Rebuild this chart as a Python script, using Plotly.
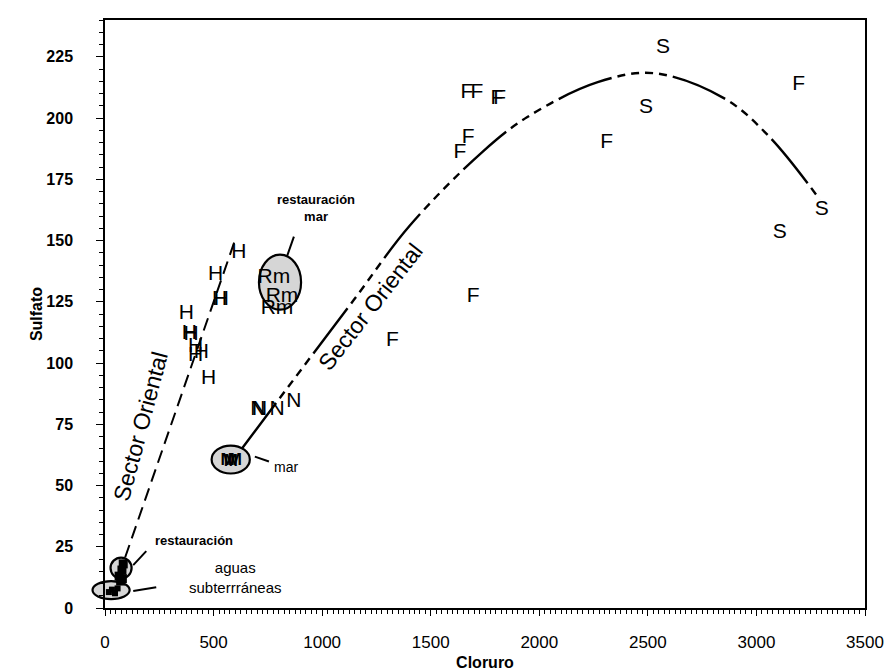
import plotly.graph_objects as go

FONT = "Liberation Sans, Arial, sans-serif"

# ---- data (Cloruro, Sulfato) ----
h_x = [616, 509, 528, 536, 375, 388, 396, 417, 444, 417, 477]
h_y = [145, 136, 126, 126, 120, 112, 111.5, 106.5, 104, 103, 93.5]

rm_x = [778, 815, 792]
rm_y = [135, 127, 122]

n_x = [704, 712, 792, 870]
n_y = [81, 81, 81, 84]

m_x = [565, 580, 598]
m_y = [60, 59.5, 60]

f_x = [1667, 1713, 1805, 1818, 1672, 1634, 2310, 3195, 1695, 1324]
f_y = [210.5, 210.5, 207.7, 208, 192, 186, 190, 213.4, 127, 109]

s_x = [2570, 2491, 3301, 3107]
s_y = [228.5, 204, 162.6, 153]

rest_x = [65, 78, 84, 72, 80]
rest_y = [13, 15.5, 18, 11, 12]

subt_x = [18, 32, 46, 58]
subt_y = [6.5, 7.5, 6, 8]

# trend lines ("Sector Oriental")
c1_x = [93, 602]
c1_y = [20.7, 151]
c2_x = [630, 940, 1148, 1403, 1736, 1945, 2269, 2528, 2852, 3060, 3292]
c2_y = [65, 101.6, 126, 156, 186, 200.4, 214.6, 218.3, 208, 192.3, 166.7]

x_ticks = [0, 500, 1000, 1500, 2000, 2500, 3000, 3500]
y_ticks = [0, 25, 50, 75, 100, 125, 150, 175, 200, 225]
X_MAX = 3500
Y_MAX = 240

fig = go.Figure()

# ellipses (groups): (x0, x1, y0, y1)
ellipses = [
    (709, 903, 121.8, 144.2),   # restauración mar
    (491, 667, 54.9, 66.3),     # mar
    (25.5, 122.5, 12.0, 20.6),  # restauración
]
for x0, x1, y0, y1 in ellipses:
    fig.add_shape(type="circle", xref="x", yref="y", x0=x0, x1=x1, y0=y0, y1=y1,
                  fillcolor="#d6d6d6", line=dict(color="black", width=2.2), layer="below")
# aguas subterráneas ellipse reaches left of the y axis -> place it in paper units (unclipped)
aguas = (-57.5, 113.5, 3.6, 11.0)
fig.add_shape(type="circle", xref="paper", yref="paper",
              x0=aguas[0] / X_MAX, x1=aguas[1] / X_MAX, y0=aguas[2] / Y_MAX, y1=aguas[3] / Y_MAX,
              fillcolor="#d6d6d6", line=dict(color="black", width=2.2), layer="below")

# leader lines
leaders = [
    ((838, 870), (143.5, 151.6)),
    ((690, 755), (61.8, 59.8)),
    ((130, 190), (17.5, 23.2)),
    ((130, 236), (6.9, 8.5)),
]
for (lx, ly) in leaders:
    fig.add_trace(go.Scatter(x=list(lx), y=list(ly), mode="lines",
                             line=dict(color="black", width=2), hoverinfo="skip", showlegend=False))

# trend lines
fig.add_trace(go.Scatter(x=c1_x, y=c1_y, mode="lines",
                         line=dict(color="black", width=2, dash="13px,7px"),
                         showlegend=False, hoverinfo="skip"))
fig.add_trace(go.Scatter(x=c2_x, y=c2_y, mode="lines",
                         line=dict(color="black", width=2.4, shape="spline", smoothing=1.0,
                                   dash="57px,6px,8px,6px,8px,6px,8px,6px,8px,6px"),
                         showlegend=False, hoverinfo="skip"))

# square markers
fig.add_trace(go.Scatter(x=rest_x, y=rest_y, mode="markers",
                         marker=dict(symbol="square", size=9, color="black"), showlegend=False))
fig.add_trace(go.Scatter(x=subt_x, y=subt_y, mode="markers",
                         marker=dict(symbol="square", size=6, color="black"), showlegend=False,
                         cliponaxis=False))

def letters(xs, ys, label, size=21, weight="normal"):
    fig.add_trace(go.Scatter(x=xs, y=ys, mode="text", text=[label] * len(xs),
                             textposition="middle center",
                             textfont=dict(family=FONT, size=size, color="black", weight=weight),
                             showlegend=False, cliponaxis=False))

letters(h_x, h_y, "H")
letters(rm_x, rm_y, "Rm")
letters(n_x, n_y, "N")
letters(m_x, m_y, "M", size=17, weight="bold")
letters(f_x, f_y, "F")
letters(s_x, s_y, "S")

annotations = [
    dict(x=972, y=163.3, text="<b>restauración<br>mar</b>", size=13),
    dict(x=412, y=27.6, text="<b>restauración</b>", size=13),
    dict(x=602, y=12.6, text="aguas<br>subterrráneas", size=15),
    dict(x=833, y=57.7, text="mar", size=14),
]
for a in annotations:
    fig.add_annotation(x=a["x"], y=a["y"], xref="x", yref="y", text=a["text"], showarrow=False,
                       font=dict(family=FONT, size=a["size"], color="black"),
                       xanchor="center", yanchor="middle", align="center")

fig.add_annotation(x=162, y=74, xref="x", yref="y", text="Sector Oriental", showarrow=False,
                   textangle=-75, font=dict(family=FONT, size=23, color="black"))
fig.add_annotation(x=1222, y=122.8, xref="x", yref="y", text="Sector Oriental", showarrow=False,
                   textangle=-52, font=dict(family=FONT, size=23, color="black"))

fig.update_layout(
    width=892, height=672,
    margin=dict(l=97, r=35, t=12, b=72),
    paper_bgcolor="white", plot_bgcolor="white",
    showlegend=False,
    font=dict(family=FONT, color="black"),
    xaxis=dict(range=[0, X_MAX], tickvals=x_ticks, ticktext=[str(v) for v in x_ticks],
               automargin=False,
               ticks="outside", ticklen=6, tickwidth=1, tickcolor="black",
               minor=dict(dtick=25, ticks="outside", ticklen=4, tickcolor="black"),
               showline=True, linecolor="black", linewidth=1.5, mirror=True,
               showgrid=False, zeroline=False,
               tickfont=dict(family=FONT, size=17, color="black"), ticklabelstandoff=12,
               title=dict(text="<b>Cloruro</b>", font=dict(family=FONT, size=16), standoff=6)),
    yaxis=dict(range=[0, Y_MAX], tickvals=y_ticks, ticktext=["<b>%d</b>" % v for v in y_ticks],
               automargin=False,
               ticks="outside", ticklen=7, tickwidth=1, tickcolor="black",
               minor=dict(dtick=5, ticks="outside", ticklen=4, tickcolor="black"),
               showline=True, linecolor="black", linewidth=1.5, mirror=True,
               showgrid=False, zeroline=False,
               tickfont=dict(family=FONT, size=16, color="black"), ticklabelstandoff=20,
               title=dict(text="<b>Sulfato</b>", font=dict(family=FONT, size=16), standoff=0)),
)

fig.write_html("out.html")
